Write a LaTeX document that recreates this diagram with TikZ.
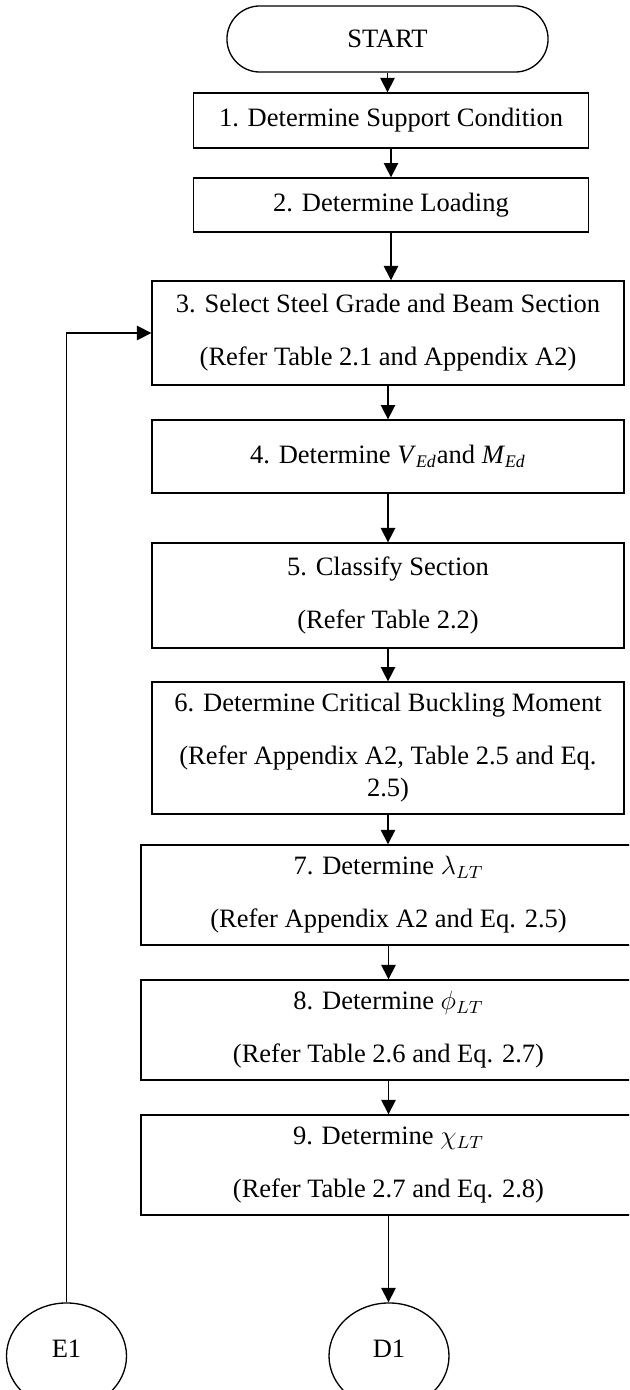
\documentclass[tikz,border=0pt]{standalone}
\usepackage{fontspec}
\setmainfont{Liberation Serif}
\usepackage{amsmath}
\usetikzlibrary{shapes.geometric, shapes.misc, arrows.meta, positioning, calc}
\tikzset{
  block/.style={rectangle, draw=black, fill=white, align=center,
    inner sep=0pt, line width=0.6pt, font=\fontsize{12}{14.5}\selectfont},
  startstop/.style={rounded rectangle, draw=black, line width=0.6pt,
    minimum width=145.3pt, minimum height=29.9pt, inner sep=0pt,
    font=\fontsize{12}{14.5}\selectfont},
  connector/.style={ellipse, draw=black, line width=0.6pt,
    minimum width=54.3pt, minimum height=48pt, inner sep=0pt,
    font=\fontsize{12}{14.5}\selectfont},
  arrow/.style={-{Triangle[length=6.5pt, width=6.5pt]}, line width=0.7pt, color=black},
  line/.style={line width=0.7pt, color=black}
}

\begin{document}
\begin{tikzpicture}[x=0.4525pt, y=-0.4525pt]
  \useasboundingbox (0,0) rectangle (629,1390);
  \clip (0,0) rectangle (629,1390);

  \node[startstop] (start) at (387.5,39) {START};
  \node[block, minimum width=178.7pt, minimum height=24.9pt] (b1) at (391,120.5) {1. Determine Support Condition};
  \node[block, minimum width=178.7pt, minimum height=24.4pt] (b2) at (391,205) {2. Determine Loading};
  \node[block, minimum width=213.6pt, minimum height=47.1pt] (b3) at (388,333)
    {3. Select Steel Grade and Beam Section\\[9.5pt](Refer Table 2.1 and Appendix A2)};
  \node[block, minimum width=213.6pt, minimum height=33pt] (b4) at (388,456.5)
    {\raisebox{2pt}{4. Determine \textit{V}\textsubscript{\textit{Ed}}and \textit{M}\textsubscript{\textit{Ed}}}};
  \node[block, minimum width=213.6pt, minimum height=47.5pt] (b5) at (388,595.5)
    {5. Classify Section\\[9.5pt](Refer Table 2.2)};
  \node[block, minimum width=213.6pt, minimum height=59.7pt] (b6) at (388,748)
    {6. Determine Critical Buckling Moment\\[9.5pt](Refer Appendix A2, Table 2.5 and Eq.\\2.5)};
  \node[block, minimum width=224pt, minimum height=45.3pt] (b7) at (388.5,895)
    {7. Determine $\lambda_{LT}$\\[9.5pt](Refer Appendix A2 and Eq. 2.5)};
  \node[block, minimum width=224pt, minimum height=45.3pt] (b8) at (388.5,1030)
    {8. Determine $\phi_{LT}$\\[9.5pt](Refer Table 2.6 and Eq. 2.7)};
  \node[block, minimum width=224pt, minimum height=45.3pt] (b9) at (388.5,1165)
    {9. Determine $\chi_{LT}$\\[9.5pt](Refer Table 2.7 and Eq. 2.8)};
  \node[connector] (e1) at (66.5,1356) {\raisebox{7pt}{E1}};
  \node[connector] (d1) at (389,1356) {\raisebox{7pt}{D1}};

  % main flow
  \foreach \a/\b in {start/b1, b1/b2, b2/b3, b3/b4, b4/b5, b5/b6, b6/b7, b7/b8, b8/b9, b9/d1}
    \draw[arrow] (\a.south) -- (\a.south |- \b.north);

  % loop back
  \draw[arrow] (e1.north) |- (b3.west);
\end{tikzpicture}
\end{document}
